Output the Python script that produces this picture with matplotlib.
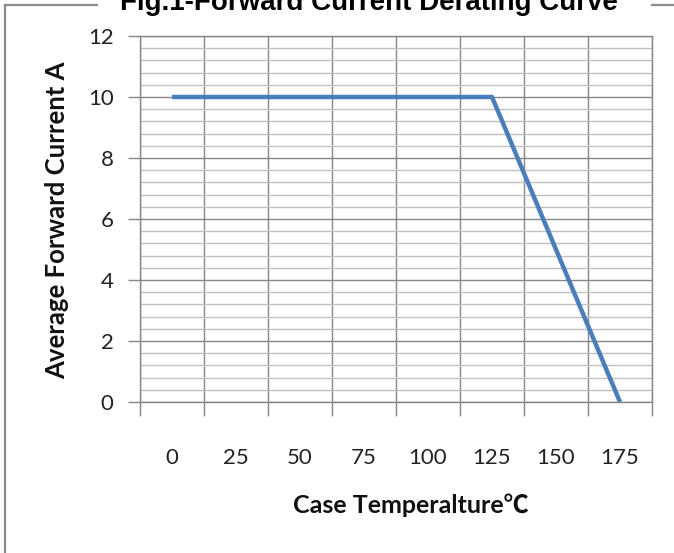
import matplotlib
matplotlib.use("Agg")
import matplotlib.pyplot as plt
import numpy as np
from matplotlib.lines import Line2D
from matplotlib.ticker import FixedLocator

# Data
temps = [0, 25, 50, 75, 100, 125, 150, 175]
current = [10, 10, 10, 10, 10, 10, 5, 0]
y_ticks = [0, 2, 4, 6, 8, 10, 12]
title = "Fig.1-Forward Current Derating Curve"
xlabel = "Case Temperalture\u2103"
ylabel = "Average Forward Current A"

W, H = 674, 553
fig = plt.figure(figsize=(W / 100, H / 100), dpi=100)
ax = fig.add_axes([140 / W, 1 - 402 / H, 512 / W, 366 / H])

major_c = "#868686"
minor_c = "#c0c0c0"
line_c = "#4a7ebb"
tick_font = ["Lato", "DejaVu Sans"]

pos = np.arange(len(temps))
ax.plot(pos, current, color=line_c, lw=3.2, solid_capstyle="butt", zorder=5)

ax.set_xlim(-0.5, len(temps) - 0.5)
ax.set_ylim(0, 12)

# x: category axis, gridlines/ticks between categories
ax.set_xticks(pos)
ax.set_xticklabels([str(t) for t in temps], fontsize=16, family=tick_font, color="#222222")
ax.tick_params(axis="x", which="major", length=0, pad=33)
ax.xaxis.set_minor_locator(FixedLocator(np.arange(-0.5, len(temps), 1.0)))
ax.tick_params(axis="x", which="minor", length=10, color=major_c, width=1)
ax.grid(True, axis="x", which="minor", color=major_c, lw=1)

# y axis
ax.set_yticks(y_ticks)
ax.set_yticklabels([str(v) for v in y_ticks], fontsize=16, family=tick_font, color="#222222")
ax.tick_params(axis="y", which="major", length=9, color=major_c, width=1, pad=10)
minor_y = [v for v in np.arange(0, 12.01, 0.4) if abs(v / 2 - round(v / 2)) > 1e-6]
ax.yaxis.set_minor_locator(FixedLocator(minor_y))
ax.tick_params(axis="y", which="minor", length=0)
ax.grid(True, axis="y", which="major", color=major_c, lw=1)
ax.grid(True, axis="y", which="minor", color=minor_c, lw=1)
ax.set_axisbelow(True)

for s in ax.spines.values():
    s.set_color(major_c)
    s.set_linewidth(1)

# Axis labels
fig.text(57 / W, 1 - 220 / H, ylabel, rotation=90, ha="center", va="center",
         fontsize=18.5, fontweight="bold", family=tick_font, color="#111111")
fig.text(411 / W, 1 - 505 / H, xlabel, ha="center", va="center",
         fontsize=18, fontweight="bold", family=["Lato", "Noto Sans CJK SC", "DejaVu Sans"], color="#111111")

# Title (partly cut at top, as in the source)
fig.text(369 / W, 1 - 10 / H, title, ha="center", va="baseline",
         fontsize=20, fontweight="bold", family=["Liberation Sans", "DejaVu Sans"], color="black")

# Frame lines
frame_c = "#8a8a8a"
fig.add_artist(Line2D([5 / W, 5 / W], [1 - 5 / H, 0], transform=fig.transFigure, color=frame_c, lw=1.6))
fig.add_artist(Line2D([5 / W, 97 / W], [1 - 5 / H, 1 - 5 / H], transform=fig.transFigure, color=frame_c, lw=1.6))
fig.add_artist(Line2D([652 / W, 1], [1 - 5 / H, 1 - 5 / H], transform=fig.transFigure, color=frame_c, lw=1.6))

fig.savefig("out.png", dpi=100, facecolor="white")
